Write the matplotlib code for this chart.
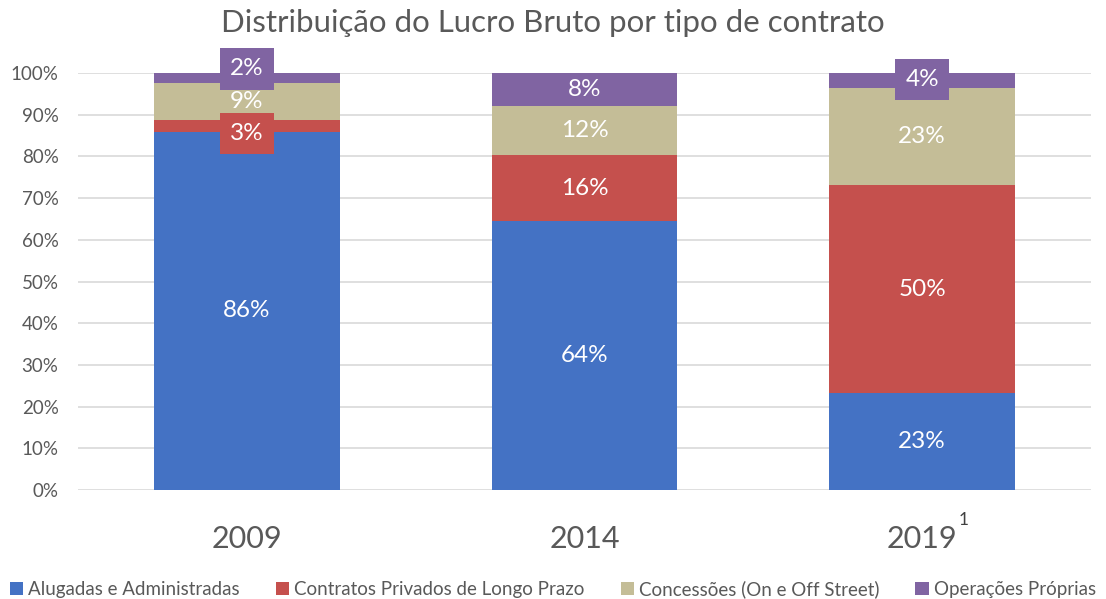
import matplotlib
matplotlib.use("Agg")
import matplotlib.pyplot as plt
import numpy as np

categories = ["2009", "2014", "2019"]
series_names = ["Alugadas e Administradas", "Contratos Privados de Longo Prazo",
                "Concessões (On e Off Street)", "Operações Próprias"]
alugadas = [85.9, 64.5, 23.3]
contratos = [2.9, 15.8, 49.8]
concessoes = [8.8, 11.8, 23.3]
operacoes = [2.4, 7.9, 3.6]
labels = [["86%", "64%", "23%"], ["3%", "16%", "50%"], ["9%", "12%", "23%"], ["2%", "8%", "4%"]]
yticks = [0, 10, 20, 30, 40, 50, 60, 70, 80, 90, 100]

colors = ["#4472C4", "#C5504D", "#C4BD97", "#8064A2"]
# label boxes and vertical offsets (percentage points) for small segments
boxed = {(1, 0): 1.9, (3, 0): 2.2, (3, 2): 0.3}

plt.rcParams['font.family'] = ['Lato', 'DejaVu Sans']
fig = plt.figure(figsize=(11.06, 5.99), dpi=100)
ax = fig.add_axes([0.0705, 0.182, 0.916, 0.696])

data = [alugadas, contratos, concessoes, operacoes]
x = np.arange(len(categories))
bottom = np.zeros(len(categories))
for si, vals in enumerate(data):
    vals = np.array(vals)
    ax.bar(x, vals, 0.55, bottom=bottom, color=colors[si], zorder=2,
           label=series_names[si])
    for ci in range(len(categories)):
        yc = bottom[ci] + vals[ci] / 2
        key = (si, ci)
        if key in boxed:
            off = boxed[key]
            yc = yc + off if si == 3 else yc - off
            ax.text(x[ci], yc, labels[si][ci], ha="center", va="center",
                    color="white", fontsize=17.5, zorder=4,
                    bbox=dict(boxstyle="square,pad=0.42", fc=colors[si], ec="none"))
        else:
            ax.text(x[ci], yc, labels[si][ci], ha="center", va="center",
                    color="white", fontsize=17.5, zorder=4)
    bottom += vals

ax.set_xlim(-0.5, 2.5)
ax.set_ylim(0, 100)
ax.set_yticks(yticks)
ax.set_yticklabels([f"{t}%" for t in yticks], color="#595959", fontsize=13.5)
ax.set_xticks(x)
ax.set_xticklabels(categories, color="#595959", fontsize=22)
ax.tick_params(axis="both", length=0)
ax.tick_params(axis="x", pad=25)
ax.tick_params(axis="y", pad=14)
ax.grid(axis="y", color="#D9D9D9", linewidth=1.2, zorder=0)
for s in ax.spines.values():
    s.set_visible(False)

fig.text(964 / 1106, 1 - 520 / 599, "1", color="#404040", fontsize=12.5, ha="center", va="center")

fig.suptitle("Distribuição do Lucro Bruto por tipo de contrato", x=0.5, y=0.985,
             color="#595959", fontsize=22.5, va="top")

leg = fig.legend(loc="lower center", bbox_to_anchor=(0.5, -0.026), ncol=4, frameon=False,
                 fontsize=13.5, handlelength=0.7, handleheight=0.7, handletextpad=0.3,
                 columnspacing=1.9)
for t in leg.get_texts():
    t.set_color("#595959")

fig.savefig("out.png", dpi=100)
